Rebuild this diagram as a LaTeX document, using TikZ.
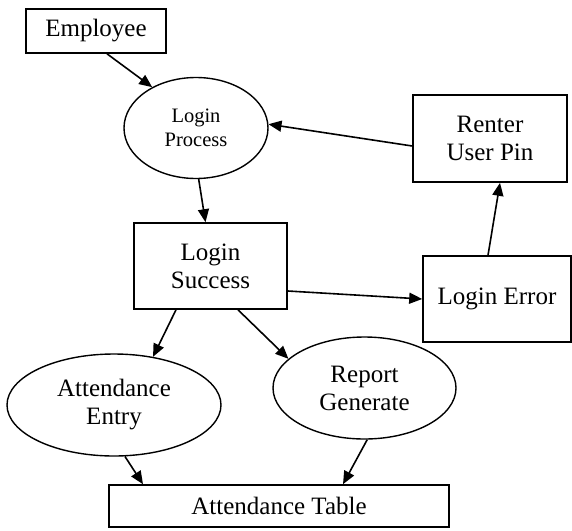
\documentclass[tikz,border=0pt]{standalone}
\usepackage{fontspec}
\setmainfont{Liberation Serif}
\usetikzlibrary{shapes.geometric,arrows.meta,calc}
\begin{document}
\begin{tikzpicture}[x=1pt,y=-1pt,
  box/.style={draw,line width=1.6pt,rectangle,inner sep=0pt,align=center,font=\fontsize{25}{28}\selectfont},
  oval/.style={draw,line width=1.4pt,ellipse,inner sep=0pt,align=center,font=\fontsize{25}{28}\selectfont},
  arr/.style={line width=1.6pt,-{Triangle[length=13pt,width=11pt]}}]
\useasboundingbox (0,0) rectangle (572,530);
\node[box,minimum width=140pt,minimum height=44pt] (emp) at (96,31) {Employee};
\node[oval,minimum width=144pt,minimum height=101pt,font=\fontsize{20.5}{24}\selectfont] (lp) at (196,128) {Login\\Process};
\node[box,minimum width=154pt,minimum height=87pt] (rp) at (490,138.5) {Renter\\User Pin};
\node[box,minimum width=153pt,minimum height=86pt] (ls) at (210.5,266) {Login\\Success};
\node[box,minimum width=148pt,minimum height=86pt] (le) at (497,299) {Login Error};
\node[oval,minimum width=214pt,minimum height=102pt] (ae) at (114,405) {Attendance\\Entry};
\node[oval,minimum width=183pt,minimum height=102pt] (rg) at (364.5,388) {Report\\Generate};
\node[box,minimum width=340pt,minimum height=42pt] (at) at (279,506) {Attendance Table};
\draw[arr] ($(emp.south)+(11,0)$) -- (lp.137);
\draw[arr] (lp.273) -- ($(ls.north)+(-5,0)$);
\draw[arr] ($(rp.west)+(0,7.5)$) -- (lp.3);
\draw[arr] ($(le.north)+(-9,0)$) -- ($(rp.south)+(10,0)$);
\draw[arr] ($(ls.east)+(0,25)$) -- (le.west);
\draw[arr] ($(ls.south)+(-34.5,0)$) -- (ae.51);
\draw[arr] ($(ls.south)+(27.5,0)$) -- (rg.159);
\draw[arr] (ae.282) -- ($(at.north)+(-136,0)$);
\draw[arr] (rg.273) -- ($(at.north)+(64,0)$);
\end{tikzpicture}
\end{document}
